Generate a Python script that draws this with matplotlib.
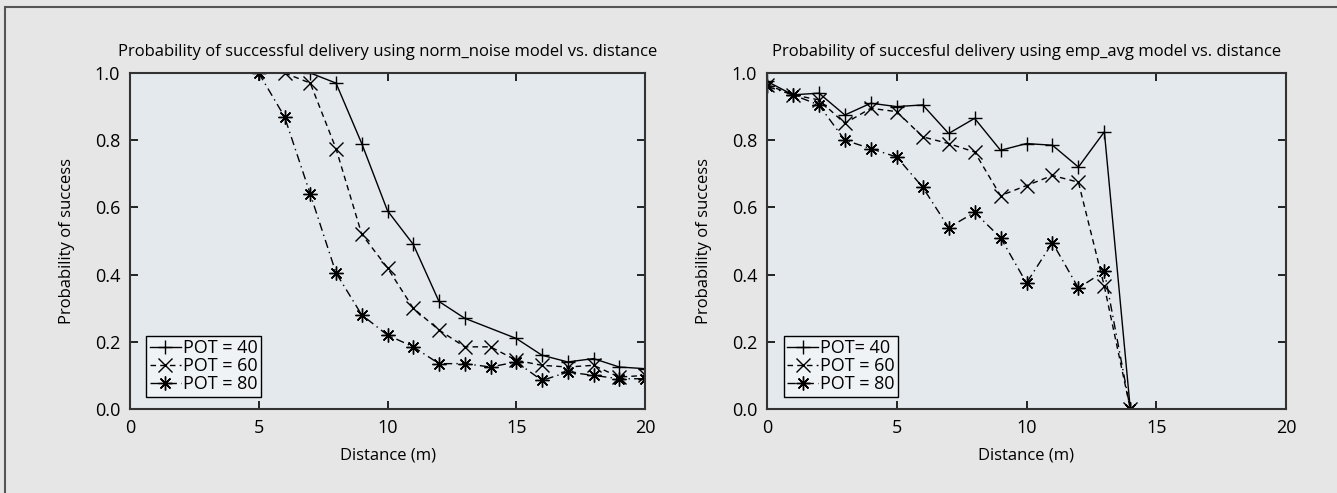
import numpy as np
import matplotlib
matplotlib.use('Agg')
import matplotlib.pyplot as plt
from matplotlib.patches import Rectangle

plt.rcParams['font.family'] = ['Open Sans', 'DejaVu Sans']

# norm_noise model
nn_x40 = [7, 8, 9, 10, 11, 12, 13, 15, 16, 17, 18, 19, 20]
nn_y40 = [1.0, 0.97, 0.79, 0.59, 0.49, 0.32, 0.27, 0.21, 0.16, 0.14, 0.15, 0.125, 0.12]
nn_x60 = [6, 7, 8, 9, 10, 11, 12, 13, 14, 15, 16, 17, 18, 19, 20]
nn_y60 = [1.0, 0.97, 0.775, 0.52, 0.42, 0.30, 0.235, 0.185, 0.185, 0.145, 0.13, 0.125, 0.13, 0.095, 0.10]
nn_x80 = [5, 6, 7, 8, 9, 10, 11, 12, 13, 14, 15, 16, 17, 18, 19, 20]
nn_y80 = [1.0, 0.87, 0.64, 0.405, 0.28, 0.22, 0.185, 0.135, 0.135, 0.125, 0.14, 0.085, 0.11, 0.10, 0.09, 0.09]

# emp_avg model
ea_x = [0, 1, 2, 3, 4, 5, 6, 7, 8, 9, 10, 11, 12, 13, 14]
ea_y40 = [0.975, 0.935, 0.94, 0.875, 0.91, 0.90, 0.905, 0.82, 0.865, 0.77, 0.79, 0.785, 0.72, 0.825, 0.0]
ea_y60 = [0.965, 0.935, 0.92, 0.85, 0.895, 0.885, 0.81, 0.79, 0.765, 0.635, 0.665, 0.695, 0.675, 0.365, 0.0]
ea_y80 = [0.96, 0.935, 0.905, 0.80, 0.775, 0.75, 0.66, 0.54, 0.585, 0.51, 0.375, 0.495, 0.36, 0.41, 0.0]

titles = ['Probability of successful delivery using norm_noise model vs. distance',
          'Probability of succesful delivery using emp_avg model vs. distance']
labels_left = ['POT = 40', 'POT = 60', 'POT = 80']
labels_right = ['POT= 40', 'POT = 60', 'POT = 80']

W, H = 1337, 493
fig = plt.figure(figsize=(W / 100, H / 100), dpi=100, facecolor='#e6e6e6')

# frame line round the figure
fig.patches.append(Rectangle((5 / W, -0.2), 1.2, 1.2 - 7 / H, transform=fig.transFigure,
                             fill=False, edgecolor='#555555', linewidth=1.5))

ax1 = fig.add_axes([130 / W, 84 / H, 515 / W, 336 / H])
ax2 = fig.add_axes([767 / W, 84 / H, 519 / W, 336 / H])

styles = [dict(ls='-', marker='+'),
          dict(ls=(0, (4, 3)), marker='x'),
          dict(ls=(0, (6, 3, 1, 3)), marker=(8, 2, 0))]

def draw(ax, data, labels, title):
    ax.set_facecolor('#e4e9ee')
    for (x, y), st, lab in zip(data, styles, labels):
        ax.plot(x, y, color='black', lw=1.0, ms=10, mew=1.0, label=lab, **st)
    ax.set_xlim(0, 20)
    ax.set_ylim(0, 1.0)
    ax.set_xticks([0, 5, 10, 15, 20])
    ax.set_yticks([0.0, 0.2, 0.4, 0.6, 0.8, 1.0])
    ax.set_yticklabels(['0.0', '0.2', '0.4', '0.6', '0.8', '1.0'])
    ax.tick_params(direction='in', length=6, width=1.2, top=True, right=True,
                   labelsize=13, pad=7, colors='black')
    ax.tick_params(axis='x', pad=7)
    for s in ax.spines.values():
        s.set_linewidth(1.5)
        s.set_color('#333333')
    ax.set_title(title, fontsize=12, pad=12)
    ax.set_xlabel('Distance (m)', fontsize=12, labelpad=8)
    ax.set_ylabel('Probability of success', fontsize=12, labelpad=14)
    leg = ax.legend(loc='lower left', fontsize=13, handlelength=1.7, handletextpad=0.1,
                    borderpad=0.2, labelspacing=0.0, fancybox=False,
                    bbox_to_anchor=(0.025, 0.025), borderaxespad=0.2)
    leg.get_frame().set_edgecolor('black')
    leg.get_frame().set_facecolor('#f0f3f6')
    leg.get_frame().set_alpha(1.0)
    leg.get_frame().set_linewidth(1.0)

draw(ax1, [(nn_x40, nn_y40), (nn_x60, nn_y60), (nn_x80, nn_y80)], labels_left, titles[0])
draw(ax2, [(ea_x, ea_y40), (ea_x, ea_y60), (ea_x, ea_y80)], labels_right, titles[1])

fig.savefig('out.png', dpi=100, facecolor=fig.get_facecolor())
